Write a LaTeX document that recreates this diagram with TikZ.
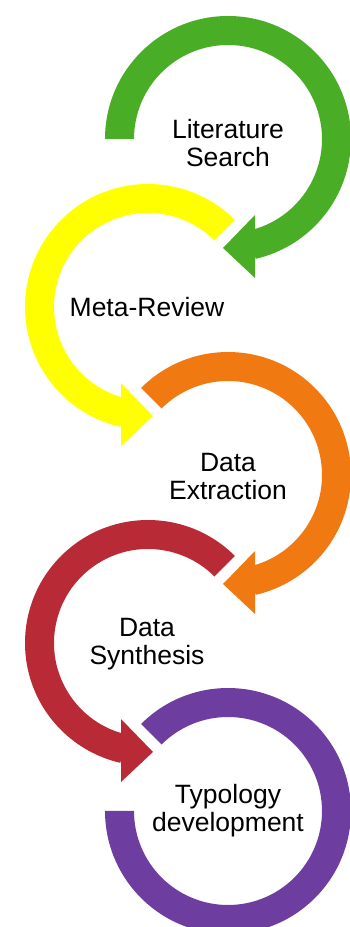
\documentclass[tikz,border=0pt]{standalone}
\usepackage{fontspec}
\setmainfont{Liberation Sans}
\definecolor{cgreen}{RGB}{74,173,38}
\definecolor{cyellow}{RGB}{255,255,0}
\definecolor{corange}{RGB}{241,121,18}
\definecolor{cred}{RGB}{185,42,55}
\definecolor{cpurple}{RGB}{109,61,160}

% thick ring segment around a centre: centre, start angle, end angle, colour
\newcommand\ringband[4]{%
  \fill[#4,shift={(#1)}] (#2:123) arc[start angle=#2,end angle=#3,radius=123]
    -- (#3:94) arc[start angle=#3,end angle=#2,radius=94] -- cycle;}
% arrow heads at the bottom of a ring
\newcommand\headpointleft[2]{%
  \fill[#2,shift={(#1)}] (27,-76) -- (-5,-109) -- (27,-139) -- cycle;}
\newcommand\headpointright[2]{%
  \fill[#2,shift={(#1)}] (-27,-76) -- (5,-109) -- (-27,-139) -- cycle;}

\begin{document}
\begin{tikzpicture}[x=1pt,y=1pt,
  steplabel/.style={align=center,font=\fontsize{26.5}{28}\selectfont,inner sep=0pt,text=black}]
\useasboundingbox (0,0) rectangle (350,927);
\clip (0,0) rectangle (350,927);

\coordinate (g) at (228,788);
\coordinate (y) at (148,620);
\coordinate (o) at (228,452);
\coordinate (r) at (148,284);
\coordinate (p) at (228,116);

% Literature Search
\ringband{g}{180}{-77}{cgreen}
\headpointleft{g}{cgreen}
% Meta-Review
\ringband{y}{45}{257}{cyellow}
\headpointright{y}{cyellow}
% Data Extraction
\ringband{o}{135}{-77}{corange}
\headpointleft{o}{corange}
% Data Synthesis
\ringband{r}{45}{257}{cred}
\headpointright{r}{cred}
% Typology development
\ringband{p}{135}{-180}{cpurple}

\node[steplabel] (t1) at (228,784) {Literature\\Search};
\node[steplabel] (t2) at (147,620) {Meta-Review};
\node[steplabel] (t3) at (228,450) {Data\\Extraction};
\node[steplabel] (t4) at (147,283) {Data\\Synthesis};
\node[steplabel] (t5) at (228,116) {Typology\\development};
\end{tikzpicture}
\end{document}
